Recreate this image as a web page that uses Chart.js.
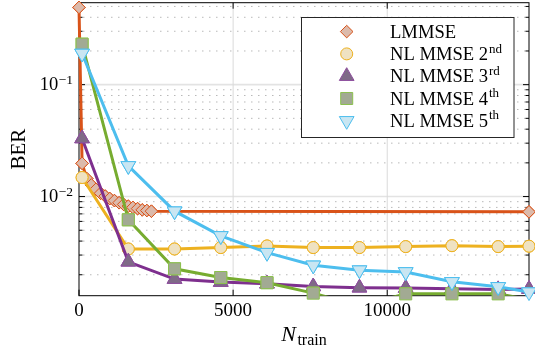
<!DOCTYPE html>
<html>
<head>
<meta charset="utf-8">
<script src="https://cdn.jsdelivr.net/npm/chart.js@4.4.1/dist/chart.umd.min.js"></script>
<style>
  html, body { margin: 0; padding: 0; background: #fff; }
  #wrap { width: 535px; height: 353px; }
</style>
</head>
<body>
<div id="wrap"><canvas id="c" width="535" height="353"></canvas></div>
<script>
// ---- data ----
const seriesNames = ['LMMSE', 'NL MMSE 2', 'NL MMSE 3', 'NL MMSE 4', 'NL MMSE 5'];
const seriesSup   = ['', 'nd', 'rd', 'th', 'th'];

const nTrainLmmse = [0, 100, 250, 400, 550, 700, 850, 1000, 1150, 1300, 1450, 1600, 1750, 1900, 2050, 2200, 2350, 14600];
const berLmmse    = [0.49, 0.0198, 0.0145, 0.0127, 0.0116, 0.0107, 0.0101, 0.0096, 0.0092, 0.0088, 0.0085, 0.0082, 0.0080, 0.0078, 0.0076, 0.0075, 0.0074, 0.0073];

const nTrain = [100, 1600, 3100, 4600, 6100, 7600, 9100, 10600, 12100, 13600, 14600];
const berNl2 = [0.0148, 0.0034, 0.0034, 0.0035, 0.00362, 0.0035, 0.0035, 0.00357, 0.00364, 0.00357, 0.0036];
const berNl3 = [0.033, 0.00261, 0.00183, 0.00172, 0.00166, 0.00157, 0.00153, 0.00152, 0.0015, 0.00148, 0.00149];
const berNl4 = [0.23, 0.0062, 0.00226, 0.00189, 0.0017, 0.00137, 0.00105, 0.00135, 0.00135, 0.00135, 0.0012];
const berNl5 = [0.19, 0.0188, 0.0074, 0.00445, 0.00315, 0.00243, 0.0022, 0.00212, 0.00173, 0.00156, 0.0014];

const xTicks = [0, 5000, 10000];
const xTickLabels = ['0', '5000', '10000'];
const yMajorTicks = [0.1, 0.01];
const yTickLabels = [['10', '\u22121'], ['10', '\u22122']];
const xRange = [0, 14600];
const yRange = [0.0013, 0.54];

// ---- styles ----
const lineColors   = ['#D95319', '#EDB120', '#7E2F8E', '#77AC30', '#4DBEEE'];
const markerFills  = ['#dcbaab', '#efe2c2', '#7f6a87', '#a2aa93', '#c9e6f2'];
const markerEdges  = ['#D95319', '#EDB120', '#8e4d9e', '#8cc04f', '#4DBEEE'];
const markerStyles = ['rectRot', 'circle', 'triangle', 'rect', 'triangle'];
const markerRot    = [0, 0, 0, 0, 180];
const markerRadius = [6.3, 6, 8.5, 8.5, 8.5];

const SERIF = '"Liberation Serif", "DejaVu Serif", serif';

const pairs = (xs, ys) => xs.map((x, i) => ({ x: x, y: ys[i] }));
const seriesData = [
  pairs(nTrainLmmse, berLmmse),
  pairs(nTrain, berNl2),
  pairs(nTrain, berNl3),
  pairs(nTrain, berNl4),
  pairs(nTrain, berNl5)
];

const datasets = seriesData.map((d, i) => ({
  label: seriesNames[i] + seriesSup[i],
  data: d,
  borderColor: lineColors[i],
  backgroundColor: markerFills[i],
  borderWidth: 3,
  tension: 0,
  pointStyle: markerStyles[i],
  pointRotation: markerRot[i],
  pointRadius: c => (c.raw && c.raw.y < yRange[0]) ? 0 : markerRadius[i],
  pointBackgroundColor: markerFills[i],
  pointBorderColor: markerEdges[i],
  pointBorderWidth: 1,
  order: 5 - i,
  // lines are cut at the bottom of the axes; markers are redrawn unclipped
  clip: { left: false, top: false, right: false, bottom: 0 }
}));

// grid, frame and tick marks beneath the data
const axesFrame = {
  id: 'axesFrame',
  beforeDatasetsDraw(chart) {
    const { ctx, chartArea: a, scales: { x, y } } = chart;
    const seg = (x1, y1, x2, y2) => { ctx.beginPath(); ctx.moveTo(x1, y1); ctx.lineTo(x2, y2); ctx.stroke(); };
    ctx.save();
    // minor dotted grid
    ctx.strokeStyle = '#b9b9b9';
    ctx.lineWidth = 1;
    ctx.setLineDash([1.5, 5.5]);
    const minors = [];
    for (let e = -3; e <= -1; e++) {
      for (let m = 2; m <= 9; m++) {
        const v = m * Math.pow(10, e);
        if (v > yRange[0] && v < yRange[1]) minors.push(v);
      }
    }
    minors.forEach(v => { const py = y.getPixelForValue(v); seg(a.left + 4, py, a.right, py); });
    ctx.setLineDash([]);
    // major grid
    ctx.strokeStyle = '#e3e3e3';
    ctx.lineWidth = 1.6;
    yMajorTicks.forEach(v => { const py = y.getPixelForValue(v); seg(a.left, py, a.right, py); });
    ctx.strokeStyle = '#dadada';
    ctx.lineWidth = 1;
    xTicks.forEach(v => { if (v === 0) return; const px = x.getPixelForValue(v); seg(px, a.top, px, a.bottom); });
    // frame
    ctx.strokeStyle = '#000';
    ctx.lineWidth = 1;
    ctx.strokeRect(a.left, a.top, a.right - a.left, a.bottom - a.top);
    // tick marks, inward on every side
    minors.forEach(v => {
      const py = y.getPixelForValue(v);
      seg(a.left, py, a.left + 3.5, py);
      seg(a.right, py, a.right - 3.5, py);
    });
    yMajorTicks.forEach(v => {
      const py = y.getPixelForValue(v);
      seg(a.left, py, a.left + 6, py);
      seg(a.right, py, a.right - 6, py);
    });
    xTicks.forEach(v => {
      const px = x.getPixelForValue(v);
      seg(px, a.bottom, px, a.bottom - 6);
      seg(px, a.top, px, a.top + 6);
    });
    ctx.restore();
  },
  afterDatasetDraw(chart, args) {
    const big = { left: -1e4, top: -1e4, right: 1e4, bottom: 1e4 };
    args.meta.data.forEach(el => el.draw(chart.ctx, big));
  }
};

function drawMarker(ctx, i, px, py) {
  ctx.save();
  ctx.fillStyle = markerFills[i];
  ctx.strokeStyle = markerEdges[i];
  ctx.lineWidth = 1;
  Chart.helpers.drawPoint(ctx, {
    pointStyle: markerStyles[i],
    rotation: markerRot[i],
    radius: markerRadius[i],
    borderWidth: 1
  }, px, py);
  ctx.restore();
}

// axis labels, y tick labels and legend
const annotations = {
  id: 'annotations',
  afterDraw(chart) {
    const { ctx, chartArea: a, scales: { y } } = chart;
    ctx.save();
    ctx.fillStyle = '#000';
    ctx.textBaseline = 'alphabetic';

    // y tick labels 10^n
    yMajorTicks.forEach((v, k) => {
      const py = y.getPixelForValue(v);
      const [base, exp] = yTickLabels[k];
      ctx.font = '18.5px ' + SERIF;
      const wb = ctx.measureText(base).width;
      ctx.font = '13.5px ' + SERIF;
      const we = ctx.measureText(exp).width;
      const right = a.left - 6;
      ctx.textAlign = 'left';
      ctx.font = '18.5px ' + SERIF;
      ctx.fillText(base, right - we - wb - 0.5, py + 5.8);
      ctx.font = '13.5px ' + SERIF;
      ctx.fillText(exp, right - we, py - 0.6);
    });

    // y axis title
    ctx.save();
    ctx.translate(25, (a.top + a.bottom) / 2);
    ctx.rotate(-Math.PI / 2);
    ctx.textAlign = 'center';
    ctx.font = '21px ' + SERIF;
    ctx.fillText('BER', 0, 0);
    ctx.restore();

    // x axis title N_train
    ctx.textAlign = 'left';
    ctx.font = 'italic 22px ' + SERIF;
    const wN = ctx.measureText('N').width;
    ctx.font = '16px ' + SERIF;
    const wSub = ctx.measureText('train').width;
    const cx = (a.left + a.right) / 2;
    const x0 = cx - (wN + 1.5 + wSub) / 2;
    ctx.font = 'italic 22px ' + SERIF;
    ctx.fillText('N', x0, 340.5);
    ctx.font = '16px ' + SERIF;
    ctx.fillText('train', x0 + wN + 1.5, 344.5);

    // legend
    const L = { x: 301.5, y: 17.5, w: 212.5, h: 120 };
    ctx.fillStyle = '#fff';
    ctx.fillRect(L.x, L.y, L.w, L.h);
    ctx.strokeStyle = '#262626';
    ctx.lineWidth = 1;
    ctx.strokeRect(L.x, L.y, L.w, L.h);
    seriesNames.forEach((name, i) => {
      const cy = 31.6 + i * 22.3;
      drawMarker(ctx, i, 346.7, cy);
      ctx.fillStyle = '#000';
      ctx.font = '18.6px ' + SERIF;
      ctx.fillText(name, 390, cy + 6.2);
      if (seriesSup[i]) {
        const w = ctx.measureText(name).width;
        ctx.font = '13px ' + SERIF;
        ctx.fillText(seriesSup[i], 390 + w + 0.8, cy - 1.4);
      }
    });
    ctx.restore();
  }
};

Chart.defaults.font.family = SERIF;

new Chart(document.getElementById('c'), {
  type: 'line',
  data: { datasets: datasets },
  options: {
    responsive: false,
    animation: false,
    events: [],
    devicePixelRatio: 1,
    layout: { autoPadding: false, padding: { left: 0, top: 2.7, right: 6, bottom: 0 } },
    scales: {
      x: {
        type: 'linear',
        min: xRange[0],
        max: xRange[1],
        afterBuildTicks: s => { s.ticks = xTicks.map(v => ({ value: v })); },
        afterFit: s => { s.height = 57.3; },
        grid: { display: false, drawTicks: false },
        border: { display: false },
        ticks: {
          color: '#000',
          font: { family: SERIF, size: 19 },
          padding: 4,
          maxRotation: 0,
          autoSkip: false,
          callback: v => xTickLabels[xTicks.indexOf(v)]
        }
      },
      y: {
        type: 'logarithmic',
        min: yRange[0],
        max: yRange[1],
        afterFit: s => { s.width = 79; },
        grid: { display: false, drawTicks: false },
        border: { display: false },
        ticks: { display: false }
      }
    },
    plugins: {
      legend: { display: false },
      tooltip: { enabled: false }
    }
  },
  plugins: [axesFrame, annotations]
});
</script>
</body>
</html>
